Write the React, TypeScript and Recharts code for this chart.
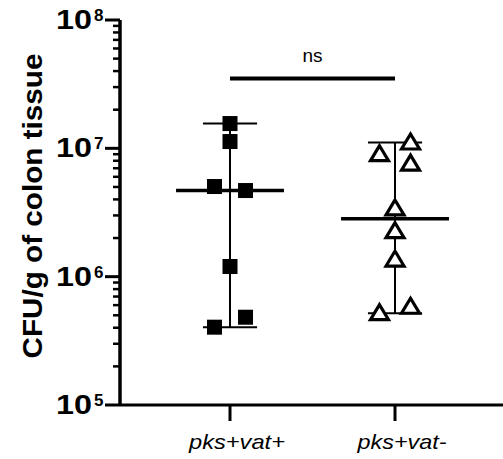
import { ScatterChart, Scatter, XAxis, YAxis, ReferenceLine, Label } from 'recharts';

const categories = ['pks+vat+', 'pks+vat-'];

// CFU per gram, read top to bottom, with the scatter column of each point (-1 left, 0 centre, 1 right)
const pksVatPos = [1.56e7, 1.13e7, 5.04e6, 4.69e6, 1.2e6, 4.83e5, 4.04e5];
const pksVatPosColumn = [0, 0, -1, 1, 0, 1, -1];
const pksVatNeg = [1.11e7, 9.0e6, 7.6e6, 3.4e6, 2.26e6, 1.36e6, 5.83e5, 5.19e5];
const pksVatNegColumn = [1, -1, 1, 0, 0, 0, 1, -1];

const decades = [1e5, 1e6, 1e7, 1e8];
const significance = 'ns';
const sigBarLevel = 3.5e7;

const JITTER = 0.094;
const CAP = 0.164;
const MEDIAN_HALF = 0.327;

const yTicks = decades.flatMap((d, i) =>
  i < decades.length - 1 ? [1, 2, 3, 4, 5, 6, 7, 8, 9].map((m) => m * d) : [d]
);

const median = (vals: number[]) => {
  const s = [...vals].sort((a, b) => a - b);
  const n = s.length;
  return n % 2 ? s[(n - 1) / 2] : (s[n / 2 - 1] + s[n / 2]) / 2;
};

const toPoints = (vals: number[], cols: number[], cat: number) =>
  vals.map((v, i) => ({ x: cat + cols[i] * JITTER, y: v }));

const groups = [
  { cat: 1, vals: pksVatPos, pts: toPoints(pksVatPos, pksVatPosColumn, 1) },
  { cat: 2, vals: pksVatNeg, pts: toPoints(pksVatNeg, pksVatNegColumn, 2) },
];

const SquareDot = (props: any) => {
  const { cx, cy } = props;
  return <rect x={cx - 7.5} y={cy - 7.5} width={15} height={15} fill="#000" />;
};

const TriangleDot = (props: any) => {
  const { cx, cy } = props;
  return (
    <path
      d={`M${cx},${cy - 8.5} L${cx + 9},${cy + 6.5} L${cx - 9},${cy + 6.5} Z`}
      fill="#fff"
      stroke="#000"
      strokeWidth={3.2}
    />
  );
};

const YTick = (props: any) => {
  const { x, y, payload } = props;
  const e = Math.log10(payload.value);
  const major = Math.abs(e - Math.round(e)) < 1e-9;
  return (
    <g>
      <line x1={x - (major ? 15 : 7)} x2={x} y1={y} y2={y} stroke="#000" strokeWidth={major ? 3 : 2.5} />
      {major && (
        <>
          <text x={x - 64} y={y + 9} fontSize={28} fontWeight="bold" fill="#000" textLength={36} lengthAdjust="spacingAndGlyphs">
            10
          </text>
          <text x={x - 26} y={y + 1} fontSize={17} fontWeight="bold" fill="#000">
            {Math.round(e)}
          </text>
        </>
      )}
    </g>
  );
};

const XTick = (props: any) => {
  const { x, y, payload } = props;
  const label = categories[payload.value - 1];
  return (
    <g>
      <line x1={x} x2={x} y1={y} y2={y + 16} stroke="#000" strokeWidth={3} />
      <text
        x={x + 7}
        y={y + 44}
        textAnchor="middle"
        fontStyle="italic"
        fontSize={21}
        fill="#000"
        textLength={label.endsWith('+') ? 96 : 89}
        lengthAdjust="spacingAndGlyphs"
      >
        {label}
      </text>
    </g>
  );
};

const YTitle = () => (
  <text
    transform="translate(42 206) rotate(-90)"
    textAnchor="middle"
    fontSize={28}
    fontWeight="bold"
    fill="#000"
    textLength={305}
    lengthAdjust="spacingAndGlyphs"
  >
    CFU/g of colon tissue
  </text>
);

export default function App() {
  return (
    <div style={{ position: 'absolute', left: 0, top: 0, fontFamily: "'Liberation Sans', Arial, sans-serif" }}>
      <ScatterChart width={503} height={459} margin={{ top: 20, right: 0, bottom: 0, left: 0 }}>
        <XAxis
          type="number"
          dataKey="x"
          domain={[1 / 3, 2.6545]}
          ticks={[1, 2]}
          interval={0}
          allowDataOverflow
          height={54}
          tickSize={0}
          tickMargin={0}
          tickLine={false}
          tick={<XTick />}
          axisLine={{ stroke: '#000', strokeWidth: 3 }}
        />
        <YAxis
          type="number"
          dataKey="y"
          scale="log"
          domain={[1e5, 1e8]}
          ticks={yTicks}
          interval={0}
          allowDataOverflow
          width={120}
          tickSize={0}
          tickMargin={0}
          tickLine={false}
          tick={<YTick />}
          axisLine={{ stroke: '#000', strokeWidth: 3.5 }}
          label={<Label content={<YTitle />} />}
        />
        {groups.map((g) => {
          const lo = Math.min(...g.vals);
          const hi = Math.max(...g.vals);
          const med = median(g.vals);
          return [
            <ReferenceLine key={`v${g.cat}`} segment={[{ x: g.cat, y: lo }, { x: g.cat, y: hi }]} stroke="#000" strokeWidth={2} />,
            <ReferenceLine key={`t${g.cat}`} segment={[{ x: g.cat - CAP, y: hi }, { x: g.cat + CAP, y: hi }]} stroke="#000" strokeWidth={2} />,
            <ReferenceLine key={`b${g.cat}`} segment={[{ x: g.cat - CAP, y: lo }, { x: g.cat + CAP, y: lo }]} stroke="#000" strokeWidth={2} />,
            <ReferenceLine key={`m${g.cat}`} segment={[{ x: g.cat - MEDIAN_HALF, y: med }, { x: g.cat + MEDIAN_HALF, y: med }]} stroke="#000" strokeWidth={3.5} />,
          ];
        })}
        <ReferenceLine
          segment={[{ x: 1, y: sigBarLevel }, { x: 2, y: sigBarLevel }]}
          stroke="#000"
          strokeWidth={4}
          label={{ value: significance, position: 'top', offset: 17, fontSize: 19, fill: '#000' }}
        />
        <Scatter data={groups[0].pts} shape={<SquareDot />} isAnimationActive={false} />
        <Scatter data={groups[1].pts} shape={<TriangleDot />} isAnimationActive={false} />
      </ScatterChart>
    </div>
  );
}
